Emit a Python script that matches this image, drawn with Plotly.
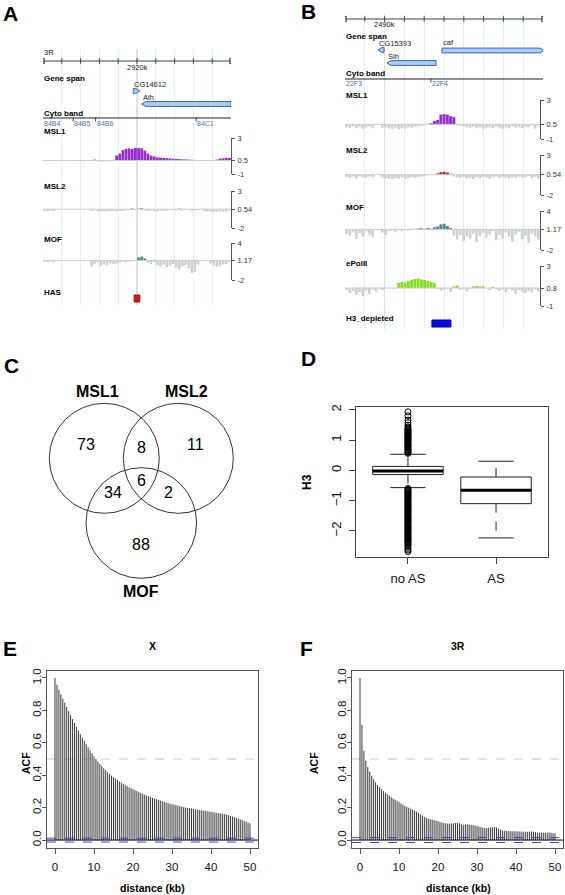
import numpy as np
import plotly.graph_objects as go

W, H = 565, 895
FONT = "Liberation Sans, Arial, Helvetica, sans-serif"

# ======================= DATA =======================
# ---- Panel A (genome browser, 3R) ----
A_CHROM = "3R"
A_XRANGE = [2910.0, 2930.0]
A_TICKS = [2910, 2912, 2914, 2916, 2918, 2920, 2922, 2924, 2926, 2928, 2930]
A_TICK_LABEL = (2920, "2920k")
A_GENE_NAMES = ["CG14612", "Alh"]
A_GENE_START = [2919.6, 2920.5]
A_GENE_END = [2920.3, 2930.0]
A_GENE_STRAND = ["+", "-"]
A_CYTO_POS = [2910.0, 2913.2, 2915.6, 2926.3]
A_CYTO_NAMES = ["84B4", "84B5", "84B6", "84C1"]
A_TRACKS = ["MSL1", "MSL2", "MOF"]
A_SCALES = [(-1, 0.5, 3), (-2, 0.54, 3), (-2, 1.17, 4)]
A_SCALE_TEXT = [("-1", "0.5", "3"), ("-2", "0.54", "3"), ("-2", "1.17", "4")]
A_MSL1 = [0.46, 0.45, 0.47, 0.44, 0.46, 0.48, 0.45, 0.43, 0.46, 0.47,
          0.45, 0.44, 0.46, 0.48, 0.47, 0.50, 0.60, 0.40, 0.37, 0.39,
          0.42, 0.45, 0.58, 1.05, 1.25, 1.65, 1.80, 1.85, 1.78, 1.90,
          1.88, 1.85, 1.60, 1.25, 1.05, 0.95, 0.85, 0.82, 0.78, 0.75,
          0.74, 0.70, 0.68, 0.66, 0.63, 0.62, 0.60, 0.58, 0.56, 0.52,
          0.48, 0.47, 0.50, 0.46, 0.44, 0.60, 0.72, 0.75, 0.80, 0.78]
A_MSL2 = [0.30, 0.25, 0.35, 0.28, 0.50, 0.52, 0.53, 0.51, 0.52, 0.53,
          0.50, 0.52, 0.53, 0.52, 0.51, 0.30, 0.45, 0.25, 0.20, 0.22,
          0.25, 0.28, 0.30, 0.24, 0.35, 0.30, 0.45, 0.40, 0.62, 0.45,
          0.60, 0.66, 0.40, 0.30, 0.35, 0.28, 0.25, 0.40, 0.30, 0.35,
          0.50, 0.42, 0.38, 0.60, 0.35, 0.45, 0.50, 0.30, 0.40, 0.45,
          0.52, 0.30, 0.25, 0.20, 0.15, 0.18, 0.22, 0.20, 0.25, 0.40]
A_MOF = [0.95, 0.85, 1.00, 0.90, 1.10, 1.15, 1.16, 1.14, 1.15, 1.16,
         1.15, 1.14, 1.15, 1.16, 1.15, 0.20, 0.60, 0.90, 0.30, 0.50,
         0.40, 0.70, 0.55, 0.65, 0.80, 0.90, 0.85, 1.00, 1.05, 1.20,
         1.65, 1.80, 1.50, 0.80, 0.60, 0.90, 0.40, 0.20, 0.50, 0.10,
         0.30, 0.60, 0.00, -0.30, 0.20, 0.40, -0.10, -0.85, -0.70, 0.50,
         1.10, 1.15, 1.12, 0.70, 0.40, 0.20, 0.30, 0.50, 0.60, 0.90]
A_FEATURE_NAME = "HAS"
A_FEATURE = (2919.7, 2920.3)

# ---- Panel B (genome browser, 2L) ----
B_CHROM = "2L"
B_XRANGE = [2488.0, 2498.0]
B_TRACK_XRANGE = [2488.0, 2497.85]
B_TICKS = [2488, 2489, 2490, 2491, 2492, 2493, 2494, 2495, 2496, 2497, 2498]
B_TICK_LABEL = (2490, "2490k")
B_GENE_NAMES = ["CG15393", "caf", "Slh"]
B_GENE_START = [2489.67, 2492.9, 2490.12]
B_GENE_END = [2489.97, 2498.05, 2492.6]
B_GENE_STRAND = ["-", "+", "-"]
B_CYTO_POS = [2488.0, 2492.34]
B_CYTO_NAMES = ["22F3", "22F4"]
B_TRACKS = ["MSL1", "MSL2", "MOF", "ePolII"]
B_SCALES = [(-1, 0.5, 3), (-2, 0.54, 3), (-2, 1.17, 4), (-1, 0.8, 3)]
B_SCALE_TEXT = [("-1", "0.5", "3"), ("-2", "0.54", "3"), ("-2", "1.17", "4"), ("-1", "0.8", "3")]
B_MSL1 = [0.20, 0.15, 0.30, 0.10, 0.25, 0.05, 0.20, 0.30, 0.10, 0.50,
          0.48, 0.15, 0.20, 0.10, 0.05, 0.15, 0.00, 0.10, 0.05, 0.20,
          0.15, 0.25, 0.30, 0.35, 0.40, 0.45, 0.62, 0.85, 0.95, 1.50,
          1.55, 1.50, 1.35, 1.25, 0.40, 0.35, 0.30, 0.20, 0.15, 0.25,
          0.10, 0.20, 0.05, 0.15, 0.20, 0.10, 0.25, 0.15, 0.05, 0.20,
          0.10, 0.30, 0.15, 0.20, 0.10, 0.25, 0.20, 0.40, 0.05, 0.30]
B_MSL2 = [0.25, 0.10, 0.30, 0.05, 0.35, 0.20, 0.15, 0.30, 0.20, 0.50,
          0.50, 0.20, 0.10, 0.05, 0.00, 0.10, 0.05, 0.15, 0.00, 0.10,
          0.20, 0.15, 0.25, 0.30, 0.40, 0.45, 0.50, 0.52, 0.70, 0.85,
          0.90, 0.80, 0.65, 0.30, 0.20, 0.10, 0.25, 0.05, 0.15, 0.00,
          0.20, 0.10, 0.25, 0.15, 0.05, 0.20, 0.30, 0.10, 0.25, 0.15,
          0.05, 0.20, 0.10, 0.30, 0.15, 0.20, 0.35, 0.10, 0.25, 0.05]
B_MOF = [0.50, 0.20, 0.80, -0.30, 0.60, 0.10, 0.90, 0.40, 0.00, 1.10,
         1.15, 0.70, 0.30, 0.90, 1.00, 0.80, 1.05, 0.90, 1.20, 1.00,
         1.25, 1.10, 1.30, 1.35, 1.25, 1.40, 1.30, 1.50, 1.60, 1.95,
         2.05, 1.70, 1.40, 0.20, -0.40, 0.30, -0.60, 0.10, -0.20, 0.50,
         -0.80, 0.20, 0.60, -0.10, 0.40, 0.90, -0.50, 0.30, -0.20, 0.70,
         0.10, -0.70, 0.40, 0.80, -0.30, 0.20, -0.90, 0.50, 0.10, -0.40]
B_EPOL = [0.60, 0.30, 0.50, 0.10, 0.40, 0.00, 0.55, 0.20, 0.65, 0.45,
          0.75, 0.60, 0.70, 0.78, 0.70, 0.76, 1.30, 1.40, 1.35, 1.50,
          1.60, 1.70, 1.75, 1.65, 1.60, 1.50, 1.40, 1.30, 0.70, 0.55,
          0.65, 0.75, 0.40, 0.95, 1.05, 0.60, 0.72, 0.50, 0.70, 0.95,
          1.00, 0.95, 0.98, 0.75, 0.60, 0.92, 0.70, 0.50, 0.65, 0.40,
          0.70, 0.55, 0.20, 0.60, 0.45, 0.30, 0.50, 0.35, 0.65, 0.45]
B_FEATURE_NAME = "H3_depleted"
B_FEATURE = (2492.39, 2493.35)

TRACK_COLORS = {"MSL1": "#9a30cc", "MSL2": "#b8292c", "MOF": "#4f8c8c", "ePolII": "#84e21c"}

# ---- Panel C (Venn) ----
VENN_SETS = ["MSL1", "MSL2", "MOF"]
VENN_REGIONS = ["MSL1 only", "MSL1&MSL2", "MSL2 only", "all", "MSL1&MOF", "MSL2&MOF", "MOF only"]
VENN_COUNTS = [73, 8, 11, 6, 34, 2, 88]

# ---- Panel D (boxplot H3) ----
D_GROUPS = ["no AS", "AS"]
D_Q1 = [-0.14, -1.10]
D_MED = [-0.02, -0.66]
D_Q3 = [0.13, -0.22]
D_LO = [-0.57, -2.23]
D_HI = [0.53, 0.30]
D_OUT_NOAS = [1.93, 1.80, 1.66, 1.57, 1.49, 1.43, 1.39, 1.36, 1.33, 1.30, 1.27, 1.25,
              1.22, 1.19, 1.16, 1.14, 1.11, 1.08, 1.05, 1.02, 0.99, 0.97, 0.94, 0.91,
              0.88, 0.85, 0.82, 0.80, 0.77, 0.74, 0.71, 0.68, 0.65, 0.62, 0.59, 0.56,
              -0.60, -0.63, -0.66, -0.69, -0.72, -0.75, -0.78, -0.81, -0.84, -0.87,
              -0.90, -0.93, -0.96, -0.99, -1.02, -1.05, -1.08, -1.11, -1.14, -1.17,
              -1.20, -1.23, -1.26, -1.29, -1.32, -1.35, -1.38, -1.41, -1.44, -1.47,
              -1.50, -1.53, -1.56, -1.59, -1.62, -1.65, -1.68, -1.71, -1.74, -1.77,
              -1.80, -1.83, -1.86, -1.89, -1.92, -1.95, -1.98, -2.01, -2.04, -2.07,
              -2.10, -2.13, -2.16, -2.19, -2.22, -2.25, -2.28, -2.31, -2.34, -2.37,
              -2.40, -2.44, -2.48, -2.53, -2.58, -2.63, -2.68]
D_YTICKS = [-2, -1, 0, 1, 2]
D_YTICKTEXT = ["\u22122", "\u22121", "0", "1", "2"]

# ---- Panels E / F (ACF) ----
ACF_LAG_STEP = 0.5
E_TITLE = "X"
E_ACF = [1.000, 0.960, 0.928, 0.900, 0.873, 0.847, 0.821, 0.796, 0.771, 0.746,
         0.722, 0.699, 0.676, 0.654, 0.633, 0.612, 0.592, 0.572, 0.553, 0.535,
         0.517, 0.500, 0.485, 0.470, 0.456, 0.443, 0.431, 0.419, 0.408, 0.398,
         0.388, 0.379, 0.370, 0.362, 0.354, 0.347, 0.340, 0.333, 0.326, 0.320,
         0.314, 0.308, 0.302, 0.296, 0.290, 0.285, 0.280, 0.275, 0.270, 0.265,
         0.260, 0.256, 0.252, 0.248, 0.244, 0.240, 0.236, 0.232, 0.228, 0.224,
         0.221, 0.218, 0.215, 0.212, 0.209, 0.206, 0.203, 0.200, 0.198, 0.196,
         0.194, 0.192, 0.190, 0.188, 0.186, 0.184, 0.182, 0.180, 0.178, 0.176,
         0.174, 0.172, 0.170, 0.168, 0.166, 0.164, 0.162, 0.160, 0.157, 0.153,
         0.149, 0.145, 0.141, 0.137, 0.133, 0.128, 0.123, 0.118, 0.113, 0.108,
         0.103]
E_CI = 0.012
F_TITLE = "3R"
F_ACF = [1.000, 0.711, 0.552, 0.490, 0.452, 0.422, 0.396, 0.375, 0.357, 0.341,
         0.327, 0.314, 0.302, 0.292, 0.283, 0.274, 0.265, 0.257, 0.249, 0.242,
         0.235, 0.226, 0.218, 0.211, 0.205, 0.200, 0.194, 0.188, 0.182, 0.175,
         0.167, 0.158, 0.150, 0.142, 0.136, 0.132, 0.129, 0.126, 0.123, 0.120,
         0.117, 0.112, 0.108, 0.105, 0.103, 0.102, 0.101, 0.101, 0.103, 0.105,
         0.106, 0.103, 0.098, 0.095, 0.096, 0.097, 0.096, 0.094, 0.092, 0.089,
         0.086, 0.083, 0.080, 0.077, 0.075, 0.074, 0.076, 0.078, 0.079, 0.080,
         0.078, 0.072, 0.065, 0.060, 0.057, 0.056, 0.055, 0.055, 0.055, 0.054,
         0.054, 0.053, 0.053, 0.052, 0.052, 0.051, 0.051, 0.052, 0.053, 0.051,
         0.049, 0.047, 0.046, 0.047, 0.046, 0.045, 0.046, 0.047, 0.045, 0.043,
         0.041]
F_CI = 0.015
ACF_XTICKS = [0, 10, 20, 30, 40, 50]
ACF_YTICKS = [0.0, 0.2, 0.4, 0.6, 0.8, 1.0]

# ======================= HELPERS =======================
fig = go.Figure()
axes = {}
annotations = []
shapes = []
_cnt = [0]


def new_axes(xd, yd, xr, yr, xopts=None, yopts=None):
    _cnt[0] += 1
    k = _cnt[0]
    s = "" if k == 1 else str(k)
    xn, yn = "x" + s, "y" + s
    xa = dict(domain=[xd[0] / W, xd[1] / W], range=xr, anchor=yn, visible=False,
              fixedrange=True, zeroline=False, showgrid=False, automargin=False)
    ya = dict(domain=[1 - yd[1] / H, 1 - yd[0] / H], range=yr, anchor=xn, visible=False,
              fixedrange=True, zeroline=False, showgrid=False, automargin=False)
    if xopts:
        xa.update(xopts)
    if yopts:
        ya.update(yopts)
    axes["xaxis" + s] = xa
    axes["yaxis" + s] = ya
    return xn, yn


def text(x, y, s, xref="paper", yref="paper", size=10, bold=False, color="#000",
         xanchor="left", yanchor="middle", angle=0):
    if xref == "paper":
        x = x / W
    if yref == "paper":
        y = 1 - y / H
    annotations.append(dict(x=x, y=y, xref=xref, yref=yref,
                            text=f"<b>{s}</b>" if bold else s, showarrow=False,
                            font=dict(family=FONT, size=size, color=color),
                            xanchor=xanchor, yanchor=yanchor, textangle=angle, borderpad=0))


def line(xs, ys, xa, ya, color="#000", width=1, dash="solid"):
    fig.add_trace(go.Scatter(x=xs, y=ys, xaxis=xa, yaxis=ya, mode="lines",
                             line=dict(color=color, width=width, dash=dash),
                             hoverinfo="skip", showlegend=False))


def marks(xs, ys, xa, ya, symbol, size, color="#444"):
    fig.add_trace(go.Scatter(x=xs, y=ys, xaxis=xa, yaxis=ya, mode="markers",
                             marker=dict(symbol=symbol, size=size, color=color,
                                         line=dict(color=color, width=1)),
                             hoverinfo="skip", showlegend=False))


def gene_poly(s, e, strand, yc, h, tip):
    tip = min(tip, (e - s) * 0.6)
    if strand == "+":
        xs = [s, e - tip, e, e - tip, s, s]
    else:
        xs = [e, s + tip, s, s + tip, e, e]
    ys = [yc - h, yc - h, yc, yc + h, yc + h, yc - h]
    return xs, ys


def genome_panel(cfg):
    xr = cfg["xrange"]
    hx, hy = new_axes(cfg["xdom"], cfg["ydom"], xr, [cfg["ydom"][1], cfg["ydom"][0]],
                      xopts=dict(visible=True, showgrid=True, gridcolor="#def2f7", gridwidth=1,
                                 tickvals=cfg["ticks"], showticklabels=False, ticks="",
                                 showline=False))
    line([cfg["tick_label"][0]] * 2, [cfg["ydom"][0], cfg["ydom"][1]], hx, hy,
         color=cfg["hl_color"], width=1)
    sy = cfg["scale_y"]
    line([xr[0], xr[1]], [sy, sy], hx, hy, color="#444", width=1)
    marks(cfg["ticks"][1:-1], [sy] * (len(cfg["ticks"]) - 2), hx, hy, "line-ns-open", 4)
    marks([xr[0], xr[1]], [sy, sy], hx, hy, ["triangle-left-open", "triangle-right-open"], 5)
    text(xr[0], sy - 9, cfg["chrom"], hx, hy, size=7.5, color="#222")
    text(cfg["tick_label"][0], sy + 6, cfg["tick_label"][1], hx, hy, size=7.5, color="#222",
         xanchor="center")
    text(xr[0], cfg["gene_span_y"], "Gene span", hx, hy, size=8, bold=True)
    for name, s, e, st, gy, ly in zip(cfg["gene_names"], cfg["gene_start"], cfg["gene_end"],
                                      cfg["gene_strand"], cfg["gene_y"], cfg["gene_label_y"]):
        gxs, gys = gene_poly(s, e, st, gy, 2.4, cfg["tip"])
        fig.add_trace(go.Scatter(x=gxs, y=gys, xaxis=hx, yaxis=hy, mode="lines", fill="toself",
                                 fillcolor="#a9cff2", line=dict(color="#3a5fc4", width=1),
                                 hoverinfo="skip", showlegend=False))
        text(s, ly, name, hx, hy, size=7.5, color="#222")
    text(xr[0], cfg["cyto_label_y"], "Cyto band", hx, hy, size=8, bold=True)
    cy = cfg["cyto_y"]
    line([xr[0], xr[1]], [cy, cy], hx, hy, color="#222", width=1)
    marks(cfg["cyto_pos"][1:], [cy + 1.5] * (len(cfg["cyto_pos"]) - 1), hx, hy, "line-ns-open", 3)
    for p, n in zip(cfg["cyto_pos"], cfg["cyto_names"]):
        text(p, cy + 5, n, hx, hy, size=7, color="#4a6db5")
    for name, vals, (lo, c, hi), ttxt, (ty0, ty1), ly in zip(
            cfg["tracks"], cfg["track_vals"], cfg["scales"], cfg["scale_text"],
            cfg["track_dom"], cfg["track_label_y"]):
        text(xr[0], ly, name, hx, hy, size=8, bold=True)
        txr = cfg["track_xrange"]
        tx, ty = new_axes((cfg["xdom"][0], cfg["track_xdom_end"]), (ty0, ty1), txr, [lo, hi],
                          yopts=dict(visible=True, side="right", showline=True, linecolor="#555",
                                     linewidth=1, ticks="outside", ticklen=3, tickcolor="#555",
                                     tickvals=[lo, c, hi], ticktext=list(ttxt),
                                     tickfont=dict(family=FONT, size=7.5, color="#333"),
                                     ticklabelstandoff=1))
        v = np.array(vals, dtype=float)
        n = len(v)
        step = (txr[1] - txr[0]) / n
        pos = txr[0] + step * (np.arange(n) + 0.5)
        line([txr[0], txr[1]], [c, c], tx, ty, color="#cccccc", width=1)
        up = v >= c
        fig.add_trace(go.Bar(x=pos[~up], y=v[~up] - c, base=c, width=step * 0.8, xaxis=tx, yaxis=ty,
                             marker=dict(color="#cfcfcf", line=dict(width=0)),
                             hoverinfo="skip", showlegend=False))
        fig.add_trace(go.Bar(x=pos[up], y=v[up] - c, base=c, width=step * 0.9, xaxis=tx, yaxis=ty,
                             marker=dict(color=TRACK_COLORS[name], line=dict(width=0)),
                             hoverinfo="skip", showlegend=False))
    text(xr[0], cfg["feat_label_y"], cfg["feat_name"], hx, hy, size=8, bold=True)
    f0, f1 = cfg["feat"]
    fy0, fy1 = cfg["feat_y"]
    fig.add_trace(go.Scatter(x=[f0, f1, f1, f0, f0], y=[fy0, fy0, fy1, fy1, fy0], xaxis=hx, yaxis=hy,
                             mode="lines", fill="toself", fillcolor=cfg["feat_color"],
                             line=dict(color=cfg["feat_line"], width=1),
                             hoverinfo="skip", showlegend=False))


# ======================= PANEL A =======================
genome_panel(dict(
    xrange=A_XRANGE, xdom=(43, 231), ydom=(49, 305), ticks=A_TICKS, tick_label=A_TICK_LABEL,
    hl_color="#c9c9c9", scale_y=61, chrom=A_CHROM, gene_span_y=78,
    gene_names=A_GENE_NAMES, gene_start=A_GENE_START, gene_end=A_GENE_END,
    gene_strand=A_GENE_STRAND, gene_y=[91, 104], gene_label_y=[84, 97], tip=0.42,
    cyto_label_y=113, cyto_y=118, cyto_pos=A_CYTO_POS, cyto_names=A_CYTO_NAMES,
    tracks=A_TRACKS, track_vals=[A_MSL1, A_MSL2, A_MOF], scales=A_SCALES, scale_text=A_SCALE_TEXT,
    track_dom=[(138, 174), (191, 228), (243, 280)], track_label_y=[131, 186, 239],
    track_xrange=A_XRANGE, track_xdom_end=231,
    feat_label_y=292, feat_name=A_FEATURE_NAME, feat=A_FEATURE, feat_y=(295, 302),
    feat_color="#dd1a1a", feat_line="#8a1010"))

# ======================= PANEL B =======================
genome_panel(dict(
    xrange=B_XRANGE, xdom=(345, 543), ydom=(14, 329), ticks=B_TICKS, tick_label=B_TICK_LABEL,
    hl_color="#d3e0e8", scale_y=19, chrom=B_CHROM, gene_span_y=37,
    gene_names=B_GENE_NAMES, gene_start=B_GENE_START, gene_end=B_GENE_END,
    gene_strand=B_GENE_STRAND, gene_y=[50, 50.5, 63], gene_label_y=[44, 43, 57], tip=0.2,
    cyto_label_y=74, cyto_y=79, cyto_pos=B_CYTO_POS, cyto_names=B_CYTO_NAMES,
    tracks=B_TRACKS, track_vals=[B_MSL1, B_MSL2, B_MOF, B_EPOL], scales=B_SCALES,
    scale_text=B_SCALE_TEXT,
    track_dom=[(100, 139), (155, 195), (211, 250), (266, 306)],
    track_label_y=[96, 150, 207, 263],
    track_xrange=B_TRACK_XRANGE, track_xdom_end=540,
    feat_label_y=318, feat_name=B_FEATURE_NAME, feat=B_FEATURE, feat_y=(320, 327),
    feat_color="#0a0adc", feat_line="#000088"))

# ======================= PANEL C (Venn) =======================
vx, vy = new_axes((0, 282), (330, 600), [0, 282], [600, 330])
VENN_CIRCLES = [(104.3, 458.3, 55), (178.3, 458.3, 55), (141.3, 523, 55.3)]
VENN_SET_LABEL_POS = [(97, 392), (186, 392), (141, 591)]
VENN_COUNT_POS = [(86, 445), (141.5, 448), (195, 445), (141, 481), (113, 493), (168, 493), (141, 544)]
for (cx, cy, r) in VENN_CIRCLES:
    shapes.append(dict(type="circle", xref=vx, yref=vy, x0=cx - r, x1=cx + r, y0=cy - r, y1=cy + r,
                       line=dict(color="#333", width=1), layer="above"))
for name, (px, py) in zip(VENN_SETS, VENN_SET_LABEL_POS):
    text(px, py, name, vx, vy, size=16, bold=True, xanchor="center")
for cnt, (px, py) in zip(VENN_COUNTS, VENN_COUNT_POS):
    text(px, py, str(cnt), vx, vy, size=16, xanchor="center")

# ======================= PANEL D (boxplot) =======================
dx, dy = new_axes((356, 548), (407, 557), [0.41, 2.59], [-2.86, 2.09],
                  xopts=dict(visible=True, showline=True, mirror=True, linecolor="#444", linewidth=1,
                             ticks="outside", ticklen=6, tickcolor="#444", tickvals=[1, 2],
                             ticktext=D_GROUPS, tickfont=dict(family=FONT, size=13, color="#111"),
                             ticklabelstandoff=3),
                  yopts=dict(visible=True, showline=True, mirror=True, linecolor="#444", linewidth=1,
                             ticks="outside", ticklen=6, tickcolor="#444", tickvals=D_YTICKS,
                             ticktext=D_YTICKTEXT, tickangle=-90,
                             tickfont=dict(family=FONT, size=13, color="#111"), ticklabelstandoff=3))
BW = 0.4
for i, g in enumerate(D_GROUPS):
    gx = i + 1
    line([gx, gx], [D_Q3[i], D_HI[i]], dx, dy, color="#222", width=1, dash="dash")
    line([gx, gx], [D_Q1[i], D_LO[i]], dx, dy, color="#222", width=1, dash="dash")
    line([gx - BW / 2, gx + BW / 2], [D_HI[i]] * 2, dx, dy, color="#222", width=1)
    line([gx - BW / 2, gx + BW / 2], [D_LO[i]] * 2, dx, dy, color="#222", width=1)
    fig.add_trace(go.Scatter(x=[gx - BW, gx + BW, gx + BW, gx - BW, gx - BW],
                             y=[D_Q1[i], D_Q1[i], D_Q3[i], D_Q3[i], D_Q1[i]], xaxis=dx, yaxis=dy,
                             mode="lines", fill="toself", fillcolor="white",
                             line=dict(color="#222", width=1), hoverinfo="skip", showlegend=False))
    line([gx - BW, gx + BW], [D_MED[i]] * 2, dx, dy, color="#000", width=3)
fig.add_trace(go.Scatter(x=[1] * len(D_OUT_NOAS), y=D_OUT_NOAS, xaxis=dx, yaxis=dy, mode="markers",
                         marker=dict(symbol="circle-open", size=6, color="#000", line=dict(width=1)),
                         hoverinfo="skip", showlegend=False))
text(307, 482, "H3", size=12, bold=True, xanchor="center", angle=-90)


# ======================= PANELS E / F (ACF) =======================
def acf_panel(xdom, vals, ci, title, title_x, ylab_x):
    ax, ay = new_axes(xdom, (671, 848), [-2.05, 52.05], [-0.049, 1.043],
                      xopts=dict(visible=True, showline=True, mirror=True, linecolor="#555", linewidth=1,
                                 ticks="outside", ticklen=5, tickcolor="#555", tickvals=ACF_XTICKS,
                                 tickfont=dict(family=FONT, size=11.5, color="#111"),
                                 ticklabelstandoff=3),
                      yopts=dict(visible=True, showline=True, mirror=True, linecolor="#555", linewidth=1,
                                 ticks="outside", ticklen=4, tickcolor="#555", tickvals=ACF_YTICKS,
                                 ticktext=[f"{t:.1f}" for t in ACF_YTICKS], tickangle=-90,
                                 tickfont=dict(family=FONT, size=11.5, color="#111"),
                                 ticklabelstandoff=-4))
    shapes.append(dict(type="line", xref=ax + " domain", yref=ay, x0=0, x1=1, y0=0.5, y1=0.5,
                       line=dict(color="#c8c8c8", width=1, dash="dash"), layer="below"))
    xs, ys = [], []
    for k, v in enumerate(vals):
        lag = k * ACF_LAG_STEP
        xs += [lag, lag, None]
        ys += [0, v, None]
    line(xs, ys, ax, ay, color="#3a3a3a", width=1)
    shapes.append(dict(type="line", xref=ax + " domain", yref=ay, x0=0, x1=1, y0=0, y1=0,
                       line=dict(color="#000", width=1), layer="above"))
    for c in (ci, -ci):
        shapes.append(dict(type="line", xref=ax + " domain", yref=ay, x0=0, x1=1, y0=c, y1=c,
                           line=dict(color="#4444d4", width=1, dash="dash"), layer="above"))
    text(title_x, 646, title, size=10.5, bold=True, xanchor="center")
    text(title_x, 888, "distance (kb)", size=10.5, bold=True, xanchor="center")
    text(ylab_x, 763, "ACF", size=10.5, bold=True, xanchor="center", angle=-90)


acf_panel((47, 258), E_ACF, E_CI, E_TITLE, 152.5, 26)
acf_panel((352, 563), F_ACF, F_CI, F_TITLE, 458, 314)

# ======================= PANEL LETTERS =======================
for letter, (px, py) in zip("ABCDEF", [(10, 13), (308, 12), (11, 365), (308, 359), (10, 648), (306, 648)]):
    text(px, py, letter, size=21, bold=True, xanchor="center")

fig.update_layout(width=W, height=H, margin=dict(l=0, r=0, t=0, b=0, autoexpand=False),
                  paper_bgcolor="white", plot_bgcolor="rgba(0,0,0,0)",
                  showlegend=False, barmode="overlay", annotations=annotations, shapes=shapes,
                  font=dict(family=FONT), **axes)
fig.write_html("out.html", config={"displayModeBar": False, "staticPlot": True},
               post_script="document.body.style.margin='0';document.body.style.padding='0';"
                           "document.body.style.overflow='hidden';")
